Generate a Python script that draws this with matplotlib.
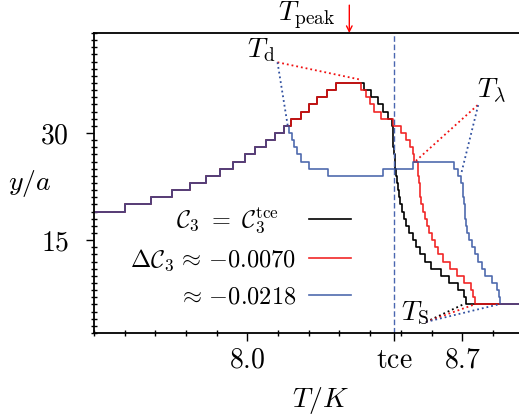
import numpy as np
import matplotlib
matplotlib.use('Agg')
import matplotlib.pyplot as plt
from matplotlib.ticker import MultipleLocator, FixedLocator, FixedFormatter

plt.rcParams['font.family'] = 'serif'
plt.rcParams['font.serif'] = ['DejaVu Serif']
plt.rcParams['mathtext.fontset'] = 'cm'

# Dati: scalini (T di inizio gradino, livello y/a)
tce = 8.479

T_common = [7.500, 7.601, 7.686, 7.755, 7.814, 7.866, 7.911, 7.953, 7.993,
            8.024, 8.061, 8.091, 8.120]
y_common = [19, 20, 21, 22, 23, 24, 25, 26, 27, 28, 29, 30, 31]

T_black = [8.143, 8.174, 8.202, 8.226, 8.259, 8.289, 8.381, 8.403, 8.424,
           8.441, 8.457, 8.471, 8.473, 8.474, 8.476, 8.478, 8.480, 8.482,
           8.485, 8.487, 8.490, 8.494, 8.498, 8.503, 8.509, 8.517, 8.527,
           8.538, 8.550, 8.564, 8.580, 8.598, 8.631, 8.658, 8.685, 8.707,
           8.711]
y_black = [32, 33, 34, 35, 36, 37, 36, 35, 34, 33, 32, 31, 30, 29, 28, 27,
           26, 25, 24, 23, 22, 21, 20, 19, 18, 17, 16, 15, 14, 13, 12, 11,
           10, 9, 8, 7, 6]

T_red = [8.143, 8.174, 8.202, 8.226, 8.259, 8.289, 8.370, 8.386, 8.400,
         8.414, 8.435, 8.473, 8.500, 8.517, 8.530, 8.540, 8.544, 8.555,
         8.557, 8.559, 8.561, 8.564, 8.567, 8.572, 8.579, 8.586, 8.592,
         8.602, 8.610, 8.622, 8.638, 8.660, 8.684, 8.706, 8.728, 8.735,
         8.741]
y_red = [32, 33, 34, 35, 36, 37, 36, 35, 34, 33, 32, 31, 30, 29, 28, 27, 26,
         25, 24, 23, 22, 21, 20, 19, 18, 17, 16, 15, 14, 13, 12, 11, 10, 9,
         8, 7, 6]

T_blue = [8.137, 8.144, 8.151, 8.162, 8.173, 8.200, 8.262, 8.441, 8.539,
          8.674, 8.685, 8.696, 8.702, 8.704, 8.706, 8.708, 8.710, 8.713,
          8.717, 8.723, 8.731, 8.742, 8.752, 8.763, 8.775, 8.797, 8.812,
          8.820, 8.822]
y_blue = [30, 29, 28, 27, 26, 25, 24, 25, 26, 25, 24, 23, 22, 21, 20, 19,
          18, 17, 16, 15, 14, 13, 12, 11, 10, 9, 8, 7, 6]

T_max = 8.885
labels = [r'$\mathcal{C}_3\ =\ \mathcal{C}_3^{\rm tce}$' + '   ',
          r'$\Delta\mathcal{C}_3\,\approx\,{-}0.0070$',
          r'$\approx\,{-}0.0218$']

col_red = '#f01010'
col_blue = '#3050a0'


def serie(T, y):
    TT = np.array(T_common + T + [T_max])
    yy = np.array(y_common + y + [y[-1]])
    return TT, yy


fig = plt.figure(figsize=(5.19, 4.18), dpi=100)
ax = fig.add_axes([94/519, 85/418, 425/519, 300/418])

for T, y, c, a, lab in [(T_black, y_black, 'black', 1.0, labels[0]),
                        (T_red, y_red, col_red, 0.9, labels[1]),
                        (T_blue, y_blue, col_blue, 0.85, labels[2])]:
    TT, yy = serie(T, y)
    ax.step(TT, yy, where='post', color=c, lw=1.2, alpha=a, label=lab)

ax.axvline(tce, color='#4a66b0', lw=1.0, ls=(0, (4, 2)))

# Annotazioni
dot = dict(ls=':', lw=1.3)
ax.plot([8.098, 8.365], [39.9, 37.5], color=col_red, **dot)
ax.plot([8.098, 8.131], [39.9, 31.1], color=col_blue, **dot)
ax.plot([8.750, 8.549], [33.9, 26.1], color=col_red, **dot)
ax.plot([8.752, 8.696], [33.9, 24.2], color=col_blue, **dot)
ax.plot([8.582, 8.703], [3.55, 6.0], color='black', **dot)
ax.plot([8.582, 8.740], [3.55, 6.0], color=col_red, **dot)
ax.plot([8.582, 8.818], [3.55, 6.0], color=col_blue, **dot)

fs = 20
ax.text(8.000, 40.6, r'$T_{\rm d}$', fontsize=fs, ha='left', va='baseline')
ax.text(8.749, 35.0, r'$T_{\lambda}$', fontsize=fs, ha='left', va='baseline')
ax.text(8.500, 3.8, r'$T_{\rm S}$', fontsize=fs, ha='left', va='baseline')
ax.text(8.098, 45.8, r'$T_{\rm peak}$', fontsize=fs, ha='left',
        va='baseline', clip_on=False)
ax.annotate('', xy=(8.332, 44.0), xytext=(8.332, 47.9),
            arrowprops=dict(arrowstyle='->', color='red', lw=1.0,
                            shrinkA=0, shrinkB=0), annotation_clip=False)

ax.set_xlim(7.5, T_max)
ax.set_ylim(2, 44)

ax.xaxis.set_major_locator(FixedLocator([8.0, tce, 8.7]))
ax.xaxis.set_major_formatter(FixedFormatter([r'$8.0$', r'$\mathrm{tce}$', r'$8.7$']))
ax.xaxis.set_minor_locator(MultipleLocator(0.1))
ax.yaxis.set_major_locator(FixedLocator([15, 30]))
ax.yaxis.set_major_formatter(FixedFormatter([r'$15$', r'$30$']))
ax.yaxis.set_minor_locator(MultipleLocator(1))
ax.tick_params(which='major', direction='out', length=6, width=1.0,
               labelsize=fs, pad=12)
ax.tick_params(which='minor', direction='inout', length=4, width=1.0)
ax.tick_params(axis='x', which='major', pad=4)

for s in ['left', 'bottom', 'top']:
    ax.spines[s].set_linewidth(1.3)
ax.spines['right'].set_visible(False)

ax.set_xlabel(r'$T/K$', fontsize=fs)
ax.xaxis.set_label_coords((320-94)/425, -(385-333)/300)
ax.set_ylabel(r'$y/a$', fontsize=fs, rotation=0)
ax.yaxis.set_label_coords((30-94)/425, (333-199)/300)

leg = ax.legend(loc='center right', bbox_to_anchor=(0.605, 0.2536),
                frameon=False, markerfirst=False, fontsize=17.5,
                borderaxespad=0, borderpad=0, handlelength=1.75,
                handletextpad=0.5, labelspacing=0.5)

fig.savefig('out.png', dpi=100)
